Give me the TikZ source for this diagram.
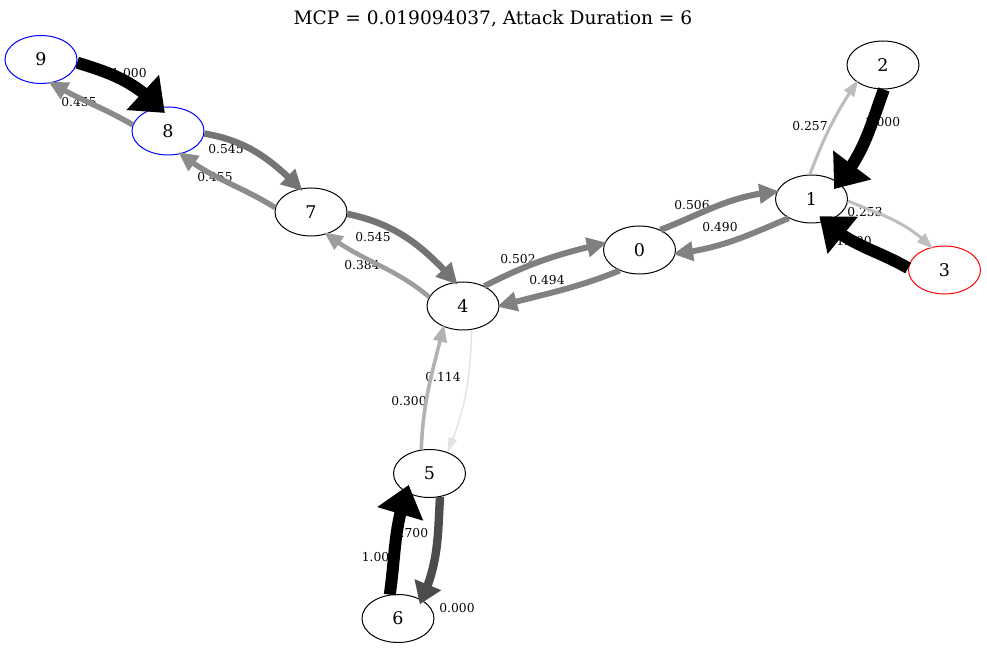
\documentclass[tikz,border=0pt]{standalone}
\usepackage{fontspec}
\setmainfont{DejaVu Serif}
\usetikzlibrary{arrows.meta,bending,shapes.geometric}
\tikzset{
  st/.style={ellipse, draw=black, line width=1pt, minimum width=72pt, minimum height=48pt, inner sep=0pt, font=\fontsize{17.5}{20}\selectfont},
  lb/.style={inner sep=0pt, font=\fontsize{12.3}{14}\selectfont},
  ed/.style n args={5}{draw=#1, line width=#2pt, shorten >=#5pt, -{Triangle[length=#3pt, width=#4pt, line width=0pt]}},
  p100/.style={ed={black}{12}{30}{48}{-7.5}},
  p70/.style={ed={black!70}{8.4}{21}{29}{-4.5}},
  p545/.style={ed={black!54.5}{6.5}{20.5}{22}{-3}},
  p506/.style={ed={black!50.6}{6.1}{19.5}{20.5}{-2}},
  p502/.style={ed={black!50.2}{6}{19.5}{20.5}{-2}},
  p494/.style={ed={black!49.4}{5.9}{19.5}{20.5}{-2}},
  p490/.style={ed={black!49}{5.9}{19.5}{20.5}{-2}},
  p455/.style={ed={black!45.5}{5.5}{19}{19.5}{-2.5}},
  p384/.style={ed={black!38.4}{4.6}{18}{17}{-2.5}},
  p300/.style={ed={black!30}{3.6}{17}{14.5}{-2}},
  p257/.style={ed={black!25.7}{3.1}{16}{12.5}{-2}},
  p253/.style={ed={black!25.3}{3}{16}{12.3}{-2}},
  p114/.style={ed={black!11.4}{1.4}{14.5}{9}{0}},
}
\begin{document}
\begin{tikzpicture}[x=1pt,y=1pt]
\useasboundingbox (0,0) rectangle (987,648);
\node[font=\fontsize{18.6}{21}\selectfont, inner sep=0pt] (title) at (493,629) {MCP = 0.019094037, Attack Duration = 6};
% nodes
\node[st, draw=blue] (n9) at (41,588.5) {9};
\node[st, draw=blue] (n8) at (168,517) {8};
\node[st] (n7) at (311,436) {7};
\node[st] (n4) at (463,342) {4};
\node[st] (n0) at (639.5,398) {0};
\node[st] (n1) at (811.5,449) {1};
\node[st] (n2) at (883,583) {2};
\node[st, draw=red] (n3) at (944.5,378) {3};
\node[st] (n5) at (429.5,174.5) {5};
\node[st] (n6) at (398,29.5) {6};
% labels (under the edges)
\node[lb] (l98) at (129,575.3) {1.000};
\node[lb] (l89) at (79,546) {0.455};
\node[lb] (l87) at (226,499) {0.545};
\node[lb] (l78) at (215,471) {0.455};
\node[lb] (l74) at (373,411) {0.545};
\node[lb] (l47) at (362,383) {0.384};
\node[lb] (l40) at (518,389) {0.502};
\node[lb] (l04) at (547,368) {0.494};
\node[lb] (l01) at (692,443) {0.506};
\node[lb] (l10) at (720,421.3) {0.490};
\node[lb] (l12) at (810,522) {0.257};
\node[lb] (l21) at (882.5,526) {1.000};
\node[lb] (l13) at (865,436) {0.253};
\node[lb] (l31) at (854,407.3) {1.000};
\node[lb] (l45) at (443,271) {0.114};
\node[lb] (l54) at (409,247) {0.300};
\node[lb] (l56) at (410.5,115) {0.700};
\node[lb] (l65) at (379.5,91) {1.000};
\node[lb] (l66) at (457,40) {0.000};
% edges
\draw[p100] (n9.-5) to[out=-17, in=135] (n8.110);
\draw[p455] (n8.170) to[out=150, in=-30] (n9.-67);
\draw[p545] (n8.-4) to[out=-10, in=135] (n7.115);
\draw[p455] (n7.173) to[out=148, in=-38] (n8.-61);
\draw[p545] (n7.-3) to[out=-12, in=132] (n4.108);
\draw[p384] (n4.165) to[out=140, in=-37] (n7.-55);
\draw[p502] (n4.43) to[out=27, in=193] (n0.169);
\draw[p494] (n0.-134) to[out=202, in=15] (n4.0);
\draw[p506] (n0.44) to[out=21, in=185] (n1.168);
\draw[p490] (n1.-140) to[out=203, in=7] (n0.-6);
\draw[p257] (n1.94) to[out=69, in=-124] (n2.213);
\draw[p100] (n2.-88) to[out=-110, in=51] (n1.30);
\draw[p253] (n1.-3) to[out=-23, in=135] (n3.120);
\draw[p100] (n3.177) to[out=150, in=-42] (n1.-59);
\draw[p300] (n5.109) to[out=88, in=-104] (n4.-133);
\draw[p114] (n4.-70) to[out=-92, in=67] (n5.50);
\draw[p70] (n5.-66) to[out=-93, in=66] (n6.38);
\draw[p100] (n6.109) to[out=82, in=-108] (n5.-141);
\end{tikzpicture}
\end{document}
